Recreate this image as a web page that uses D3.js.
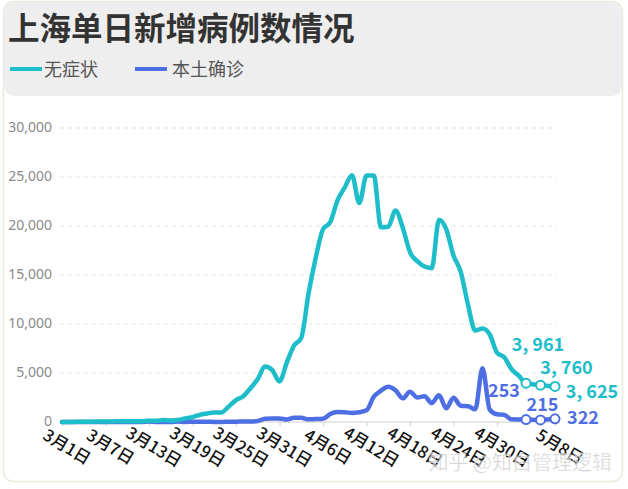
<!DOCTYPE html>
<html>
<head>
<meta charset="utf-8">
<script src="https://cdn.jsdelivr.net/npm/d3@7/dist/d3.min.js"></script>
<style>
  body { margin: 0; background: #fff; font-family: "Noto Sans CJK SC", "Noto Sans", sans-serif; }
</style>
</head>
<body>
<svg id="chart" width="628" height="489"></svg>
<script>
// dates (month-day, 2022), values per day
const dates = [
  "3-1","3-2","3-3","3-4","3-5","3-6","3-7","3-8","3-9","3-10","3-11","3-12","3-13","3-14","3-15","3-16",
  "3-17","3-18","3-19","3-20","3-21","3-22","3-23","3-24","3-25","3-26","3-27","3-28","3-29","3-30","3-31",
  "4-1","4-2","4-3","4-4","4-5","4-6","4-7","4-8","4-9","4-10","4-11","4-12","4-13","4-14","4-15","4-16",
  "4-17","4-18","4-19","4-20","4-21","4-22","4-23","4-24","4-25","4-26","4-27","4-28","4-29","4-30",
  "5-1","5-2","5-3","5-4","5-6","5-8"
];
const asymptomatic = [
  1,5,14,16,28,45,51,62,76,64,78,64,128,130,197,150,
  203,366,492,734,865,977,979,1580,2231,2631,3450,4381,5656,5298,4144,
  6051,7788,8581,13086,16766,19660,20398,22609,23937,25173,22348,25141,25146,19872,19923,21582,
  19831,17332,16407,15861,15698,20634,19657,16983,15319,11956,9330,9545,8932,7084,
  6606,5395,4722,3961,3760,3625
];
const confirmed = [
  1,3,2,3,0,3,4,3,4,11,5,1,41,9,5,8,
  57,8,17,24,31,4,4,29,38,45,50,96,326,355,358,
  260,438,425,268,311,322,824,1015,1006,914,994,1189,2573,3200,3590,3238,
  2417,3084,2494,2634,1931,2736,1401,2472,1661,1606,1292,5487,1249,788,
  727,274,260,253,215,322
];
const tickLabels = ["3月1日","3月7日","3月13日","3月19日","3月25日","3月31日","4月6日","4月12日","4月18日","4月24日","4月30日","5月8日"];
const yTicks = [0, 5000, 10000, 15000, 20000, 25000, 30000];
const markDates = ["5-4","5-6","5-8"];

const seriesNames = ["无症状", "本土确诊"];
const colors = { "无症状": "#1dbdc9", "本土确诊": "#4e6ee3" };

// label offsets for end annotations [dx, dy] from the point
const asymLabelOffset = [[12, -38], [26, -17], [37, 5]];
const confLabelOffset = [[-22, -29], [2, -15], [28, -1]];

const parseMD = s => { const [m, d] = s.split("-").map(Number); return new Date(2022, m - 1, d); };
const parseLabel = s => { const m = s.match(/(\d+)月(\d+)日/); return new Date(2022, +m[1] - 1, +m[2]); };

const data = dates.map((d, i) => ({ date: parseMD(d), asym: asymptomatic[i], conf: confirmed[i] }));

const svg = d3.select("#chart");

// card
svg.append("rect").attr("x", 3.5).attr("y", 1.5).attr("width", 619).attr("height", 480)
  .attr("rx", 10).attr("fill", "#fff").attr("stroke", "#ece9e0").attr("stroke-width", 1.5);
svg.append("rect").attr("x", 4).attr("y", 2).attr("width", 618).attr("height", 94)
  .attr("rx", 10).attr("fill", "#eeeeee");

// title
svg.append("text").attr("x", 8).attr("y", 40)
  .style("font-size", "31.5px").style("font-weight", "bold").attr("fill", "#333")
  .text("上海单日新增病例数情况");

// legend
const legendX = [10, 135];
const legend = svg.selectAll(".legend").data(seriesNames).enter().append("g")
  .attr("transform", (d, i) => `translate(${legendX[i]},70)`);
legend.append("line").attr("x1", 0).attr("x2", 32).attr("y1", -1).attr("y2", -1)
  .attr("stroke", d => colors[d]).attr("stroke-width", 4);
legend.append("text").attr("x", (d, i) => i === 0 ? 34 : 37).attr("y", 0).attr("dy", "0.35em")
  .style("font-size", "18px").attr("fill", "#555").text(d => d);

// scales
const x = d3.scaleTime()
  .domain([parseMD("3-1"), parseMD("5-8")])
  .range([62, 555]);
const y = d3.scaleLinear().domain([0, 30000]).range([422, 128]);

// grid
svg.append("g").selectAll("line").data(yTicks.filter(t => t > 0)).enter().append("line")
  .attr("x1", 60).attr("x2", 557)
  .attr("y1", d => y(d)).attr("y2", d => y(d))
  .attr("stroke", "#e3e3e3").attr("stroke-dasharray", "4,4");

// y labels
svg.append("g").selectAll("text").data(yTicks).enter().append("text")
  .attr("x", 52).attr("y", d => y(d) - 1).attr("dy", "0.35em")
  .attr("text-anchor", "end").style("font-size", "14px").attr("fill", "#8a8a8a")
  .style("font-family", "'Noto Sans', sans-serif")
  .text(d => d3.format(",")(d));

// x axis
const tickDates = tickLabels.map(parseLabel);
const xAxis = svg.append("g").attr("transform", "translate(0,422)")
  .call(d3.axisBottom(x).tickValues(tickDates).tickSize(4).tickFormat(""));
xAxis.select(".domain").attr("stroke", "#cfcfcf").attr("d", "M60,0H557");
xAxis.selectAll(".tick line").attr("stroke", "#cfcfcf");

svg.append("g").selectAll("text").data(tickLabels).enter().append("text")
  .attr("transform", d => `translate(${x(parseLabel(d)) + 5},447) rotate(31)`)
  .attr("text-anchor", "middle").attr("dy", "0.35em")
  .style("font-size", "16.5px").style("font-weight", "500").attr("fill", "#111")
  .text(d => d);

// lines
const line = key => d3.line()
  .curve(d3.curveMonotoneX)
  .x(d => x(d.date))
  .y(d => y(d[key]));

svg.append("path").datum(data)
  .attr("fill", "none").attr("stroke", colors["本土确诊"]).attr("stroke-width", 4.5)
  .attr("stroke-linejoin", "round").attr("stroke-linecap", "round")
  .attr("d", line("conf"));
svg.append("path").datum(data)
  .attr("fill", "none").attr("stroke", colors["无症状"]).attr("stroke-width", 4.5)
  .attr("stroke-linejoin", "round").attr("stroke-linecap", "round")
  .attr("d", line("asym"));

// end markers + labels
const marks = data.filter(d => markDates.some(m => +parseMD(m) === +d.date));
const fmt = v => d3.format(",")(v).replace(",", ", ");

[["conf", "本土确诊", confLabelOffset], ["asym", "无症状", asymLabelOffset]].forEach(([key, name, off]) => {
  svg.append("g").selectAll("circle").data(marks).enter().append("circle")
    .attr("cx", d => x(d.date)).attr("cy", d => y(d[key])).attr("r", 4.5)
    .attr("fill", "#fff").attr("stroke", colors[name]).attr("stroke-width", 2);
  svg.append("g").selectAll("text").data(marks).enter().append("text")
    .attr("x", (d, i) => x(d.date) + off[i][0])
    .attr("y", (d, i) => y(d[key]) + off[i][1])
    .attr("dy", "0.35em").attr("text-anchor", "middle")
    .style("font-size", "18px").style("font-weight", "bold")
    .attr("fill", colors[name])
    .text(d => fmt(d[key]));
});

// watermark
svg.append("text").attr("x", 612).attr("y", 463).attr("dy", "0.35em")
  .attr("text-anchor", "end").style("font-size", "20px")
  .attr("fill", "rgba(150,150,150,0.55)").attr("stroke", "rgba(255,255,255,0.6)").attr("stroke-width", 1)
  .text("知乎 @知白管理逻辑");
</script>
</body>
</html>
